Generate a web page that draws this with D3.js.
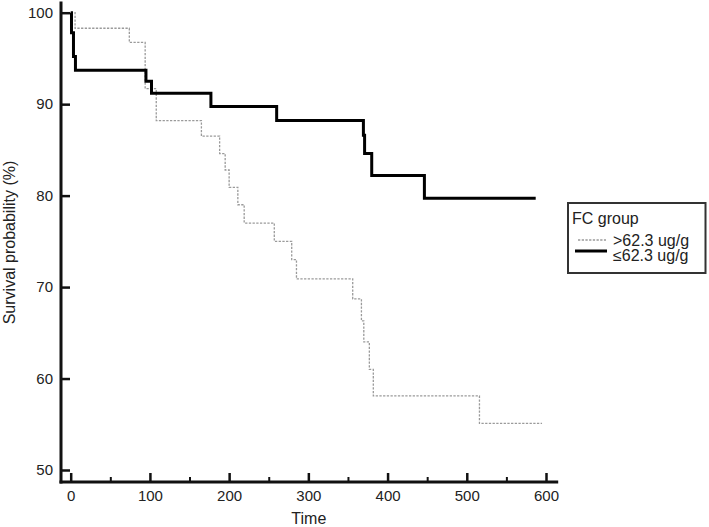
<!DOCTYPE html>
<html>
<head>
<meta charset="utf-8">
<script src="https://cdn.jsdelivr.net/npm/d3@7"></script>
<style>
  html, body { margin: 0; padding: 0; background: #fff; }
  svg { display: block; font-family: "Liberation Sans", Arial, sans-serif; }
</style>
</head>
<body>
<svg id="chart" width="709" height="527"></svg>
<script>
// ---- Data ----
const groupTitle = "FC group";
const seriesNames = [">62.3 ug/g", "≤62.3 ug/g"];

// >62.3 ug/g (dashed grey) : step times and survival (%) after each step
const highTimes = [0, 5.5, 74, 94, 108, 165, 188, 195, 200, 211, 219, 257, 279, 285, 356, 367, 370, 377, 382, 516, 595];
const highSurv  = [100, 98.3, 96.75, 91.7, 88.2, 86.5, 84.6, 82.8, 80.9, 79.0, 77.0, 75.0, 73.0, 70.9, 68.7, 66.3, 64.0, 61.0, 58.1, 55.1, 55.1];

// ≤62.3 ug/g (solid black)
const lowTimes = [0, 1, 3.5, 6, 95, 102, 177, 260, 369.5, 371, 380, 446.5, 587];
const lowSurv  = [100, 97.8, 95.2, 93.7, 92.5, 91.2, 89.75, 88.2, 86.6, 84.6, 82.2, 79.7, 79.7];

const xTicks = [0, 100, 200, 300, 400, 500, 600];
const xMinorTicks = [50, 150, 250, 350, 450, 550];
const yTicks = [50, 60, 70, 80, 90, 100];
const xTitle = "Time";
const yTitle = "Survival probability (%)";

// ---- Scales ----
const svg = d3.select("#chart");
const x = d3.scaleLinear().domain([0, 600]).range([70.7, 546]);
const y = d3.scaleLinear().domain([50, 100]).range([470, 12.7]);
const xMin = x.invert(61), xMax = x.invert(556.7);
const yMin = y.invert(482), yMax = y.invert(3);

const textColor = "#222";

// ---- Axes ----
// minor x ticks
const gxMinor = svg.append("g").attr("transform", `translate(0,${y(yMin)})`)
  .call(d3.axisBottom(x).tickValues(xMinorTicks).tickSize(-5).tickFormat(""));
gxMinor.select(".domain").remove();
gxMinor.selectAll(".tick line").attr("stroke", "#111").attr("stroke-width", 2);

const gx = svg.append("g").attr("transform", `translate(0,${y(yMin)})`)
  .call(d3.axisBottom(x).tickValues(xTicks).tickSize(-9).tickPadding(8).tickFormat(d3.format("d")));
gx.select(".domain").remove();
gx.selectAll(".tick line").attr("stroke", "#111").attr("stroke-width", 2.5);
gx.selectAll(".tick text").attr("font-size", 15).attr("fill", textColor)
  .attr("font-family", "Liberation Sans, Arial, sans-serif");

const gy = svg.append("g").attr("transform", `translate(${x(xMin)},0)`)
  .call(d3.axisLeft(y).tickValues(yTicks).tickSize(-9).tickPadding(8).tickFormat(d3.format("d")));
gy.select(".domain").remove();
gy.selectAll(".tick line").attr("stroke", "#111").attr("stroke-width", 2.5);
gy.selectAll(".tick text").attr("font-size", 15).attr("fill", textColor)
  .attr("font-family", "Liberation Sans, Arial, sans-serif");

// axis lines
svg.append("line")
  .attr("x1", x(xMin)).attr("x2", x(xMax)).attr("y1", y(yMin)).attr("y2", y(yMin))
  .attr("stroke", "#111").attr("stroke-width", 3).attr("stroke-linecap", "square");
svg.append("line")
  .attr("x1", x(xMin)).attr("x2", x(xMin)).attr("y1", y(yMin)).attr("y2", y(yMax))
  .attr("stroke", "#111").attr("stroke-width", 3).attr("stroke-linecap", "square");

// ---- Curves ----
const line = d3.line().x(d => x(d[0])).y(d => y(d[1])).curve(d3.curveStepAfter);
const highData = d3.zip(highTimes, highSurv);
const lowData = d3.zip(lowTimes, lowSurv);

svg.append("path").datum(highData).attr("d", line)
  .attr("fill", "none").attr("stroke", "#9a9a9a").attr("stroke-width", 1.3)
  .attr("stroke-dasharray", "2.3,1.4");
svg.append("path").datum(lowData).attr("d", line)
  .attr("fill", "none").attr("stroke", "#000").attr("stroke-width", 3);

// ---- Titles ----
svg.append("text").attr("x", (x(xMin) + x(xMax)) / 2).attr("y", 524)
  .attr("text-anchor", "middle").attr("font-size", 16).attr("fill", textColor).text(xTitle);
svg.append("text").attr("transform", `translate(15,${(y(yMin) + y(yMax)) / 2}) rotate(-90)`)
  .attr("text-anchor", "middle").attr("font-size", 16).attr("fill", textColor).text(yTitle);

// ---- Legend ----
const lg = svg.append("g");
lg.append("rect").attr("x", 568).attr("y", 203).attr("width", 137.5).attr("height", 70)
  .attr("fill", "#fff").attr("stroke", "#333").attr("stroke-width", 2);
lg.append("text").attr("x", 572).attr("y", 224).attr("font-size", 16).attr("fill", textColor).text(groupTitle);
lg.append("line").attr("x1", 578).attr("x2", 606).attr("y1", 240).attr("y2", 240)
  .attr("stroke", "#9a9a9a").attr("stroke-width", 1.3).attr("stroke-dasharray", "2.3,1.4");
lg.append("text").attr("x", 613).attr("y", 245.5).attr("font-size", 16).attr("fill", textColor).text(seriesNames[0]);
lg.append("line").attr("x1", 575).attr("x2", 607).attr("y1", 251).attr("y2", 251)
  .attr("stroke", "#000").attr("stroke-width", 3);
lg.append("text").attr("x", 613).attr("y", 261).attr("font-size", 16).attr("fill", textColor).text(seriesNames[1]);
</script>
</body>
</html>
